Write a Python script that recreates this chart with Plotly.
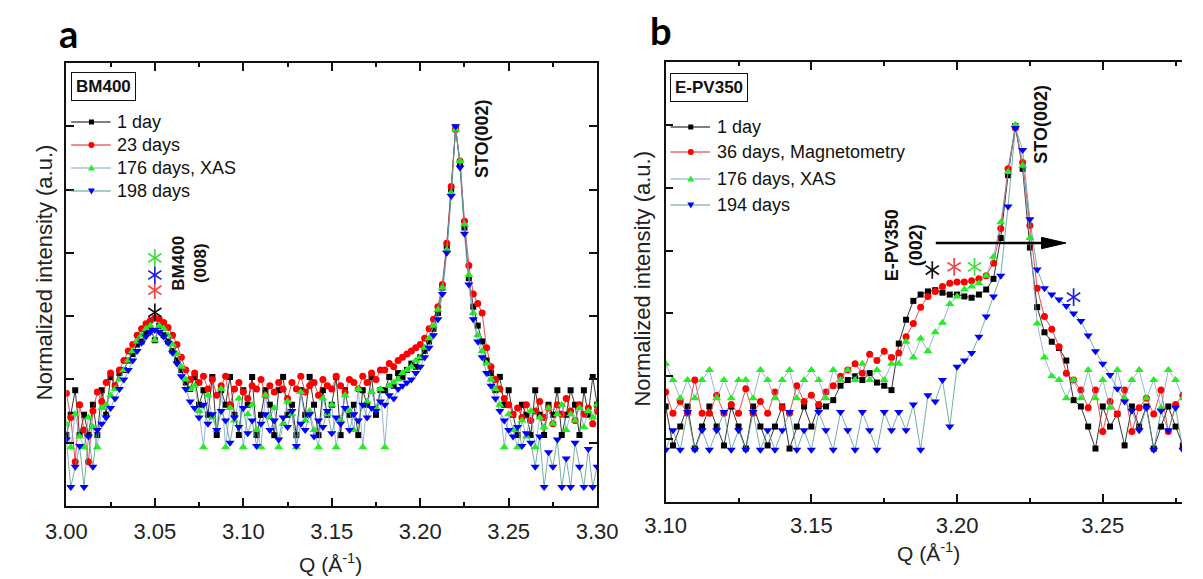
import plotly.graph_objects as go

W, H = 1203, 579

# ---------------- Panel a : BM400 ----------------
qa_start, qa_step, qa_n = 3.000, 0.0025, 121
a_1day = [1.12, 1.44, 1.83, 1.12, 1.44, 1.12, 1.60, 1.12, 1.83,
          1.44, 2.04, 1.90, 2.10,
          2.15, 2.30, 2.40, 2.55, 2.60, 2.75, 2.80, 2.62, 2.85, 2.70, 2.60, 2.45, 2.30, 2.15, 1.95, 1.85,
          2.04, 1.60, 1.83, 1.44, 2.04, 1.12, 1.83, 1.60, 2.04, 1.44, 1.12, 1.83, 1.60, 2.04, 1.12, 1.44,
          1.83, 1.60, 1.12, 1.83, 2.04, 1.44, 1.60, 1.12, 1.83, 1.44, 2.04, 1.60, 1.12, 1.83, 1.44, 1.60,
          2.04, 1.12, 1.83, 1.44, 1.60, 1.12, 1.83, 1.60, 2.04, 1.44, 1.83,
          1.83, 2.04, 1.90, 2.10, 2.04, 2.15, 2.25, 2.20, 2.35,
          2.45, 2.60, 2.80, 3.05, 3.45, 4.10, 5.00, 5.98, 5.40, 4.40, 3.60, 3.15, 2.85, 2.60, 2.30, 2.10,
          1.83, 2.04, 1.60, 1.83, 1.44, 1.12, 1.60, 1.44, 1.12, 1.83, 1.44, 1.12, 1.60, 1.44, 1.83, 1.12,
          1.44, 1.83, 1.60, 1.12, 1.83, 1.44, 2.04, 1.60]
a_23days = [1.78, 1.40, 0.70, 1.60, 1.20, 0.70, 1.50, 1.80, 1.65,
            1.95, 2.10, 1.90, 2.15,
            2.30, 2.45, 2.55, 2.70, 2.80, 2.88, 2.93, 2.97, 2.95, 2.90, 2.82, 2.70, 2.55, 2.35, 2.15, 2.00,
            2.10, 1.95, 2.05, 1.85, 2.00, 1.75, 1.90, 2.05, 1.60, 1.85, 1.95, 1.80, 1.70, 1.90, 1.85, 2.00,
            1.75, 1.90, 1.80, 1.95, 1.85, 1.70, 1.95, 1.85, 2.05, 1.80, 1.90, 1.95, 1.75, 2.00, 1.90, 1.85,
            2.05, 1.90, 1.80, 2.00, 1.95, 1.85, 2.05, 1.95, 2.10, 2.00, 2.15,
            2.15, 2.25, 2.20, 2.30, 2.35, 2.40, 2.45, 2.50, 2.55,
            2.65, 2.80, 2.95, 3.15, 3.50, 4.15, 5.05, 5.95, 5.45, 4.50, 3.80, 3.35, 3.20, 3.05, 2.50, 2.20,
            2.00, 1.85, 1.70, 1.60, 1.45, 1.55, 1.40, 1.60, 1.35, 1.50, 1.65, 1.40, 1.55, 1.30, 1.60, 1.45,
            1.70, 1.50, 1.35, 1.60, 1.45, 1.55, 1.30, 1.50]
a_176days = [1.30, 0.93, 1.45, 1.10, 0.93, 1.40, 1.25, 0.93, 1.55,
             1.60, 1.75, 1.85, 2.00,
             2.15, 2.30, 2.45, 2.60, 2.70, 2.80, 2.85, 2.62, 2.85, 2.80, 2.70, 2.55, 2.40, 2.20, 2.00, 1.85,
             1.90, 1.50, 0.93, 1.75, 1.40, 1.20, 1.85, 0.93, 1.55, 1.35, 1.70, 0.93, 1.45, 1.60, 1.20, 0.93,
             1.75, 1.40, 1.55, 0.93, 1.30, 1.65, 1.45, 0.93, 1.80, 1.35, 1.50, 1.20, 0.93, 1.70, 1.45, 1.60,
             0.93, 1.35, 1.75, 1.50, 1.20, 1.85, 0.93, 1.65, 1.80, 1.55, 1.85,
             0.93, 1.90, 1.95, 2.00, 2.10, 2.15, 2.20, 2.30, 2.35,
             2.50, 2.65, 2.85, 3.10, 3.45, 4.05, 4.95, 5.95, 5.45, 4.45, 3.65, 3.05, 2.70, 2.45, 2.25, 2.00,
             1.85, 1.60, 0.93, 1.45, 1.20, 0.93, 1.35, 1.10, 1.50, 0.93, 1.40, 1.25, 1.55, 1.30, 1.45, 1.60,
             1.20, 1.45, 1.35, 1.55, 1.25, 1.50, 1.40, 1.60]
a_198days = [1.05, 0.30, 0.62, 0.95, 0.30, 1.10, 0.62, 1.20, 1.30,
             1.40, 1.55, 1.70, 1.85,
             2.00, 2.15, 2.30, 2.45, 2.58, 2.68, 2.75, 2.78, 2.75, 2.68, 2.58, 2.42, 2.25, 2.05, 1.85, 1.65,
             1.55, 1.40, 1.60, 1.30, 1.45, 1.20, 1.50, 1.35, 1.00, 1.40, 1.25, 1.55, 1.15, 1.35, 0.95, 1.30,
             1.45, 1.20, 1.35, 1.05, 1.40, 1.25, 1.50, 0.95, 1.30, 1.20, 1.45, 1.10, 1.35, 1.25, 1.50, 1.15,
             1.40, 1.30, 1.55, 1.20, 1.45, 1.35, 1.60, 1.40, 1.55, 1.50, 1.65,
             1.60, 1.75, 1.70, 1.85, 1.90, 1.95, 2.00, 2.10, 2.20,
             2.35, 2.50, 2.70, 2.95, 3.35, 4.00, 4.90, 6.00, 5.35, 4.30, 3.50, 2.95, 2.60, 2.35, 2.10, 1.90,
             1.70, 1.50, 1.35, 1.20, 1.10, 1.25, 0.95, 1.15, 1.00, 0.62, 1.10, 0.30, 0.85, 0.62, 1.05, 0.30,
             0.75, 0.30, 1.00, 0.62, 0.30, 0.90, 0.30, 0.62]

# ---------------- Panel b : E-PV350 ----------------
qb_start, qb_step, qb_n = 3.100, 0.0025, 72
b_1day = [1.52, 0.90, 1.20, 1.52, 0.85, 1.20, 1.52, 1.20, 0.90, 1.52, 1.20, 0.85, 1.52, 1.20, 0.90, 1.20,
          1.52, 0.85, 1.20, 1.52, 1.20, 1.52,
          1.52, 1.62, 1.85, 1.94, 2.00, 1.94, 2.05, 1.90, 1.85, 1.78,
          2.52, 2.90, 3.20, 3.30, 3.35, 3.37, 3.33, 3.30, 3.30, 3.27, 3.25, 3.30, 3.38, 3.55, 4.20, 5.20,
          5.98, 5.30, 4.05, 3.10, 2.70, 2.55, 2.45, 2.25, 1.62, 1.52,
          1.20, 0.85, 1.52, 1.20, 1.40, 0.90, 1.52, 1.20, 1.52, 0.85, 1.20, 1.52, 1.20, 0.90]
b_36days = [1.75, 1.41, 1.60, 1.41, 1.94, 1.41, 1.41, 1.70, 1.41, 1.55, 1.41, 1.80, 1.41, 1.60, 1.41, 1.75,
            1.50, 1.41, 1.85, 1.60, 1.70, 1.55,
            1.75, 1.85, 2.00, 2.10, 2.20, 2.05, 2.35, 2.25, 2.40, 2.30,
            2.37, 2.63, 2.84, 3.10, 3.27, 3.35, 3.43, 3.48, 3.50, 3.50, 3.52, 3.55, 3.60, 3.80, 4.35, 5.30,
            5.95, 5.40, 4.40, 3.40, 2.95, 2.75, 2.47, 2.05, 1.94, 1.78,
            1.50, 1.78, 1.12, 1.60, 1.40, 1.78, 1.12, 1.50, 1.65, 1.40, 1.78, 1.12, 1.55, 1.70]
b_176days = [2.20, 1.94, 1.65, 1.94, 1.65, 1.94, 2.10, 1.65, 1.94, 1.65, 1.94, 1.94, 1.65, 2.10, 1.94, 1.65,
             1.94, 2.10, 1.65, 1.94, 2.10, 1.94,
             1.65, 2.10, 1.94, 2.10, 1.94, 2.20, 1.94, 2.10, 1.94, 2.20,
             2.20, 2.55, 2.30, 2.60, 2.40, 2.70, 2.85, 3.15, 3.27, 3.38, 3.43, 3.48, 3.60, 3.90, 4.45, 5.25,
             6.00, 5.35, 4.20, 2.84, 2.30, 2.00, 1.94, 1.65, 1.94, 1.65,
             2.10, 1.65, 1.94, 1.50, 2.10, 1.65, 1.94, 2.10, 1.65, 1.94, 1.50, 2.10, 1.94, 1.65]
b_194days = [0.83, 1.14, 0.83, 1.43, 0.83, 1.14, 0.83, 1.14, 1.43, 0.83, 1.14, 0.83, 1.43, 0.83, 1.14, 0.83,
             1.14, 1.43, 0.83, 1.14, 0.83, 1.43,
             1.14, 0.83, 1.43, 1.14, 0.83, 1.43, 1.14, 0.83, 1.43, 1.14,
             1.43, 1.14, 1.55, 0.83, 1.70, 1.60, 1.94, 1.20, 2.15, 2.25, 2.37, 2.63, 2.95, 3.27, 3.60, 4.70,
             5.95, 5.60, 4.50, 3.70, 3.40, 3.30, 3.22, 3.12, 3.00, 2.88,
             2.65, 2.40, 2.20, 2.02, 1.80, 1.60, 1.45, 1.14, 1.50, 0.83, 1.45, 1.14, 1.50, 0.83]

# peak markers (asterisks): Q position, height, series index
stars_a_q = [3.05, 3.05, 3.05, 3.05]
stars_a_y = [3.06, 3.41, 3.65, 3.92]
stars_a_k = [0, 1, 3, 2]
stars_b_q = [3.1915, 3.199, 3.206, 3.240]
stars_b_y = [3.69, 3.74, 3.74, 3.26]
stars_b_k = [0, 1, 2, 3]

for arr in (a_1day, a_23days, a_176days, a_198days):
    assert len(arr) == qa_n, len(arr)
for arr in (b_1day, b_36days, b_176days, b_194days):
    assert len(arr) == qb_n, len(arr)

q_a = [round(qa_start + qa_step * i, 4) for i in range(qa_n)]
q_b = [round(qb_start + qb_step * i, 4) for i in range(qb_n)]

labels_a = ["1 day", "23 days", "176 days, XAS", "198 days"]
labels_b = ["1 day", "36 days, Magnetometry", "176 days, XAS", "194 days"]

marker_col = ["#000000", "#ff0000", "#22ee22", "#0000ff"]
line_col = ["#000000", "#e02020", "#7f9fd0", "#4f9a8a"]
star_cols = ["#111111", "#f04848", "#44dd44", "#2222dd"]
symbols = ["square", "circle", "triangle-up", "triangle-down"]
msizes = [6, 7, 8, 8]

FONT = "Liberation Sans"
TXT = "#111111"

fig = go.Figure()
for k, ys in enumerate([a_1day, a_23days, a_176days, a_198days]):
    fig.add_trace(go.Scatter(x=q_a, y=ys, mode="lines+markers", name=labels_a[k],
                             line=dict(color=line_col[k], width=0.8),
                             marker=dict(symbol=symbols[k], size=msizes[k], color=marker_col[k], line=dict(width=0)),
                             xaxis="x", yaxis="y", showlegend=False))
for k, ys in enumerate([b_1day, b_36days, b_176days, b_194days]):
    fig.add_trace(go.Scatter(x=q_b, y=ys, mode="lines+markers", name=labels_b[k],
                             line=dict(color=line_col[k], width=0.8),
                             marker=dict(symbol=symbols[k], size=msizes[k], color=marker_col[k], line=dict(width=0)),
                             xaxis="x2", yaxis="y2", showlegend=False))

# six-armed asterisks = y-up + y-down open symbols overlaid
for xs, ys, ks, xa, ya in ((stars_a_q, stars_a_y, stars_a_k, "x", "y"),
                           (stars_b_q, stars_b_y, stars_b_k, "x2", "y2")):
    cols = [star_cols[k] for k in ks]
    for sym in ("y-up-open", "y-down-open"):
        fig.add_trace(go.Scatter(x=xs, y=ys, mode="markers", xaxis=xa, yaxis=ya, showlegend=False,
                                 hoverinfo="skip",
                                 marker=dict(symbol=sym, size=11, color=cols, line=dict(color=cols, width=1.7))))


def px(x):
    return x / W


def py(y):
    return 1 - y / H


axis_common = dict(showline=True, linecolor="#111111", linewidth=1.5, ticks="inside",
                   tickcolor="#111111", tickwidth=1.5, ticklen=8, showgrid=False, zeroline=False,
                   tickfont=dict(family=FONT, size=22, color="#222222"))

fig.update_layout(
    width=W, height=H, margin=dict(l=0, r=0, t=0, b=0),
    paper_bgcolor="white", plot_bgcolor="white", showlegend=False,
    xaxis=dict(domain=[px(47), px(597)], range=[3.0, 3.3], tick0=3.0, dtick=0.05, tickformat=".2f",
               anchor="y", mirror="ticks", ticklabelstandoff=5,
               minor=dict(ticks="inside", ticklen=4, tickwidth=1.5, tickcolor="#111111", dtick=0.025, tick0=3.0),
               **axis_common),
    yaxis=dict(domain=[py(506), py(63)], range=[0, 7], dtick=1, showticklabels=False,
               anchor="x", mirror="ticks", **axis_common),
    xaxis2=dict(domain=[px(668), 1.0], range=[3.10, 3.2772], tick0=3.10, dtick=0.05, tickformat=".2f",
                anchor="y2", mirror="ticks", ticklabelstandoff=3,
                minor=dict(ticks="inside", ticklen=4, tickwidth=1.5, tickcolor="#111111", dtick=0.025, tick0=3.1),
                **axis_common),
    yaxis2=dict(domain=[py(502), py(62)], range=[0, 7], dtick=1, showticklabels=False,
                anchor="x2", mirror=False, **axis_common),
)

ann = []
shapes = []
CM = dict(xanchor="center", yanchor="middle", xref="paper", yref="paper", showarrow=False)

# panel letters
ann.append(dict(text="<b>a</b>", x=px(49), y=py(33), font=dict(family="Lato", size=38, color="#000000"), **CM))
ann.append(dict(text="<b>b</b>", x=px(663), y=py(30), font=dict(family="Lato", size=38, color="#000000"), **CM))

# axis titles
for xc, yc in [(321, 563), (940, 552)]:
    ann.append(dict(text="Q (Å<sup>-1</sup>)", x=px(xc), y=py(yc),
                    font=dict(family=FONT, size=21, color="#222222"), **CM))
for xc, yc in [(24, 272), (644, 279)]:
    ann.append(dict(text="Normalized intensity (a.u.)", x=px(xc), y=py(yc), textangle=-90,
                    font=dict(family=FONT, size=22, color="#222222"), **CM))

# sample boxes
ann.append(dict(text="<b>BM400</b>", x=px(85), y=py(87),
                font=dict(family=FONT, size=17, color=TXT), bordercolor="#111111", borderwidth=1, borderpad=4,
                bgcolor="white", **CM))
ann.append(dict(text="<b>E-PV350</b>", x=px(713), y=py(88),
                font=dict(family=FONT, size=17, color=TXT), bordercolor="#111111", borderwidth=1, borderpad=4,
                bgcolor="white", **CM))

# manual legends
leg_a = dict(x0=52, x1=93, xm=73, xt=97, ys=[122, 145, 168, 191], labels=labels_a)
leg_b = dict(x0=673, x1=714, xm=694, xt=719, ys=[127, 152, 179, 205], labels=labels_b)
for leg in (leg_a, leg_b):
    for k, yy in enumerate(leg["ys"]):
        shapes.append(dict(type="line", xref="paper", yref="paper", x0=px(leg["x0"]), x1=px(leg["x1"]),
                           y0=py(yy), y1=py(yy), line=dict(color=line_col[k], width=1)))
        common = dict(xref="paper", yref="paper", xsizemode="pixel", ysizemode="pixel",
                      xanchor=px(leg["xm"]), yanchor=py(yy), fillcolor=marker_col[k], line=dict(width=0))
        if k == 0:
            shapes.append(dict(type="rect", x0=-2.5, x1=2.5, y0=-2.5, y1=2.5, **common))
        elif k == 1:
            shapes.append(dict(type="circle", x0=-3, x1=3, y0=-3, y1=3, **common))
        elif k == 2:
            shapes.append(dict(type="path", path="M-3.5,-2.5 L3.5,-2.5 L0,3.5 Z", **common))
        else:
            shapes.append(dict(type="path", path="M-3.5,2.5 L3.5,2.5 L0,-3.5 Z", **common))
        ann.append(dict(text=leg["labels"][k], x=px(leg["xt"]), y=py(yy), xref="paper", yref="paper",
                        xanchor="left", yanchor="middle", showarrow=False,
                        font=dict(family=FONT, size=18, color=TXT)))

# peak labels
ann.append(dict(text="<b>STO(002)</b>", x=3.235, y=5.80, xref="x", yref="y", showarrow=False, textangle=-90,
                font=dict(family=FONT, size=18, color=TXT)))
ann.append(dict(text="<b>BM400<br>(008)</b>", x=3.0697, y=3.84, xref="x", yref="y", showarrow=False,
                textangle=-90, font=dict(family=FONT, size=17, color=TXT)))
ann.append(dict(text="<b>STO(002)</b>", x=3.229, y=6.01, xref="x2", yref="y2", showarrow=False, textangle=-90,
                font=dict(family=FONT, size=18, color=TXT)))
ann.append(dict(text="<b>E-PV350<br>(002)</b>", x=3.1819, y=4.09, xref="x2", yref="y2", showarrow=False,
                textangle=-90, font=dict(family=FONT, size=18, color=TXT)))

# shift arrow in panel b
arrow_y = 4.12
shapes.append(dict(type="line", xref="x2", yref="y2", x0=3.1927, x1=3.2300, y0=arrow_y, y1=arrow_y,
                   line=dict(color="#000000", width=2.5)))
shapes.append(dict(type="path", xref="x2", yref="y2",
                   path=f"M3.2290,{arrow_y + 0.09} L3.2374,{arrow_y} L3.2290,{arrow_y - 0.09} Z",
                   fillcolor="#000000", line=dict(color="#000000", width=1)))

fig.update_layout(annotations=ann, shapes=shapes)
fig.write_html("out.html")
